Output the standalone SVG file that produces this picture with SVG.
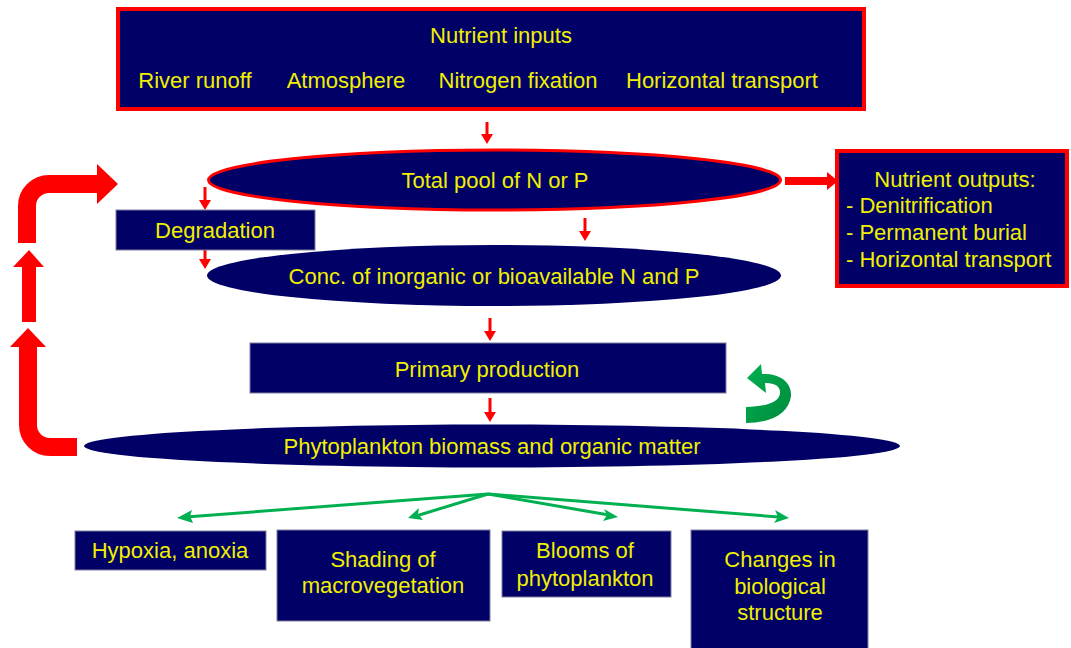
<svg xmlns="http://www.w3.org/2000/svg" width="1071" height="648" viewBox="0 0 1071 648">
<style>
.box{fill:#000066;stroke:#7f7f9f;stroke-width:1}
.rbox{fill:#000066;stroke:#ff0000;stroke-width:4}
.ell{fill:#000066}
.t{font-family:"Liberation Sans",Arial,sans-serif;font-size:22px;fill:#f0f000}
.c{text-anchor:middle}
.sr{stroke:#ff0000;stroke-width:3;fill:none}
.hr{fill:#ff0000}
.big{stroke:#ff0000;fill:none}
.g{stroke:#00b050;stroke-width:3;fill:none}
.gh{fill:#00b050}
</style>
<defs>
<linearGradient id="gg" x1="0" y1="0" x2="1" y2="1">
<stop offset="0" stop-color="#00b050"/>
<stop offset="1" stop-color="#008a3c"/>
</linearGradient>
</defs>
<g id="connectors">
<path class="sr" d="M487 122 V136"/><polygon class="hr" points="481,134 493,134 487,144"/>
<path class="sr" d="M585 218 V233"/><polygon class="hr" points="579,231 591,231 585,241"/>
<path class="sr" d="M205 187 V202"/><polygon class="hr" points="199,200 211,200 205,210"/>
<path class="sr" d="M205 250 V261"/><polygon class="hr" points="199,259 211,259 205,269"/>
<path class="sr" d="M490 318 V333"/><polygon class="hr" points="484,331 496,331 490,341"/>
<path class="sr" d="M490 398 V414"/><polygon class="hr" points="484,412 496,412 490,422"/>
<path class="big" stroke-width="8" d="M785 181 H828"/><polygon class="hr" points="827,172 827,190 838,181"/>
<path class="big" stroke-width="18" d="M77 447 H50 A22 22 0 0 1 28 425 V346"/>
<polygon class="hr" points="10,347 46,347 28,328"/>
<path class="big" stroke-width="14" d="M29 322 V266"/>
<polygon class="hr" points="13,267 44,267 29,250"/>
<path class="big" stroke-width="18" d="M27 243 V206 A22 22 0 0 1 49 184 H98"/>
<polygon class="hr" points="97,164 97,204 118,184"/>
<path class="g" d="M488 494 L186 517"/><polygon class="gh" points="177,518 192,510 190,516 193,523"/>
<path class="g" d="M488 494 L416 516"/><polygon class="gh" points="408,518 419,508 418,514 423,520"/>
<path class="g" d="M488 494 L609 515"/><polygon class="gh" points="618,517 603,521 607,515 604,509"/>
<path class="g" d="M488 494 L779 517"/><polygon class="gh" points="789,518 774,523 778,517 775,510"/>
<path fill="url(#gg)" d="M746 407 C768 406 781 402 780 391 C779 385 773 383 765 383 L766 393 L747 378 L761 364 L762 374 C779 373 792 382 791 396 C789 413 772 423 746 423 Z"/>
</g>
<g id="inputs">
<rect class="rbox" x="118" y="9" width="746" height="100"/>
<text class="t c" x="501" y="43">Nutrient inputs</text>
<text class="t c" x="195" y="88">River runoff</text>
<text class="t c" x="346" y="88">Atmosphere</text>
<text class="t c" x="518" y="88">Nitrogen fixation</text>
<text class="t c" x="722" y="88">Horizontal transport</text>
</g>
<g id="total-pool">
<ellipse cx="494.5" cy="180" rx="286" ry="30" fill="#000066" stroke="#ff0000" stroke-width="3"/>
<text class="t c" x="495" y="188">Total pool of N or P</text>
</g>
<g id="outputs">
<rect class="rbox" x="837" y="151" width="230" height="135"/>
<text class="t c" x="955" y="187">Nutrient outputs:</text>
<text class="t" x="846" y="213">- Denitrification</text>
<text class="t" x="846" y="240">- Permanent burial</text>
<text class="t" x="846" y="267">- Horizontal transport</text>
</g>
<g id="degradation">
<rect class="box" x="116" y="210" width="199" height="40"/>
<text class="t c" x="215" y="238">Degradation</text>
</g>
<g id="conc">
<ellipse class="ell" cx="494" cy="275.5" rx="287" ry="30.5"/>
<text class="t c" x="494" y="284">Conc. of inorganic or bioavailable N and P</text>
</g>
<g id="primary">
<rect class="box" x="250" y="343" width="476" height="50"/>
<text class="t c" x="487" y="377">Primary production</text>
</g>
<g id="phyto">
<ellipse class="ell" cx="492" cy="446" rx="408" ry="21.5"/>
<text class="t c" x="492" y="454">Phytoplankton biomass and organic matter</text>
</g>
<g id="hypoxia">
<rect class="box" x="75" y="531" width="191" height="39"/>
<text class="t c" x="170" y="558">Hypoxia, anoxia</text>
</g>
<g id="shading">
<rect class="box" x="277" y="530" width="213" height="91"/>
<text class="t c" x="383" y="567">Shading of</text>
<text class="t c" x="383" y="593">macrovegetation</text>
</g>
<g id="blooms">
<rect class="box" x="502" y="531" width="169" height="66"/>
<text class="t c" x="585" y="558">Blooms of</text>
<text class="t c" x="585" y="586">phytoplankton</text>
</g>
<g id="changes">
<rect class="box" x="691" y="530" width="177" height="125"/>
<text class="t c" x="780" y="567">Changes in</text>
<text class="t c" x="780" y="594">biological</text>
<text class="t c" x="780" y="620">structure</text>
</g>
</svg>
